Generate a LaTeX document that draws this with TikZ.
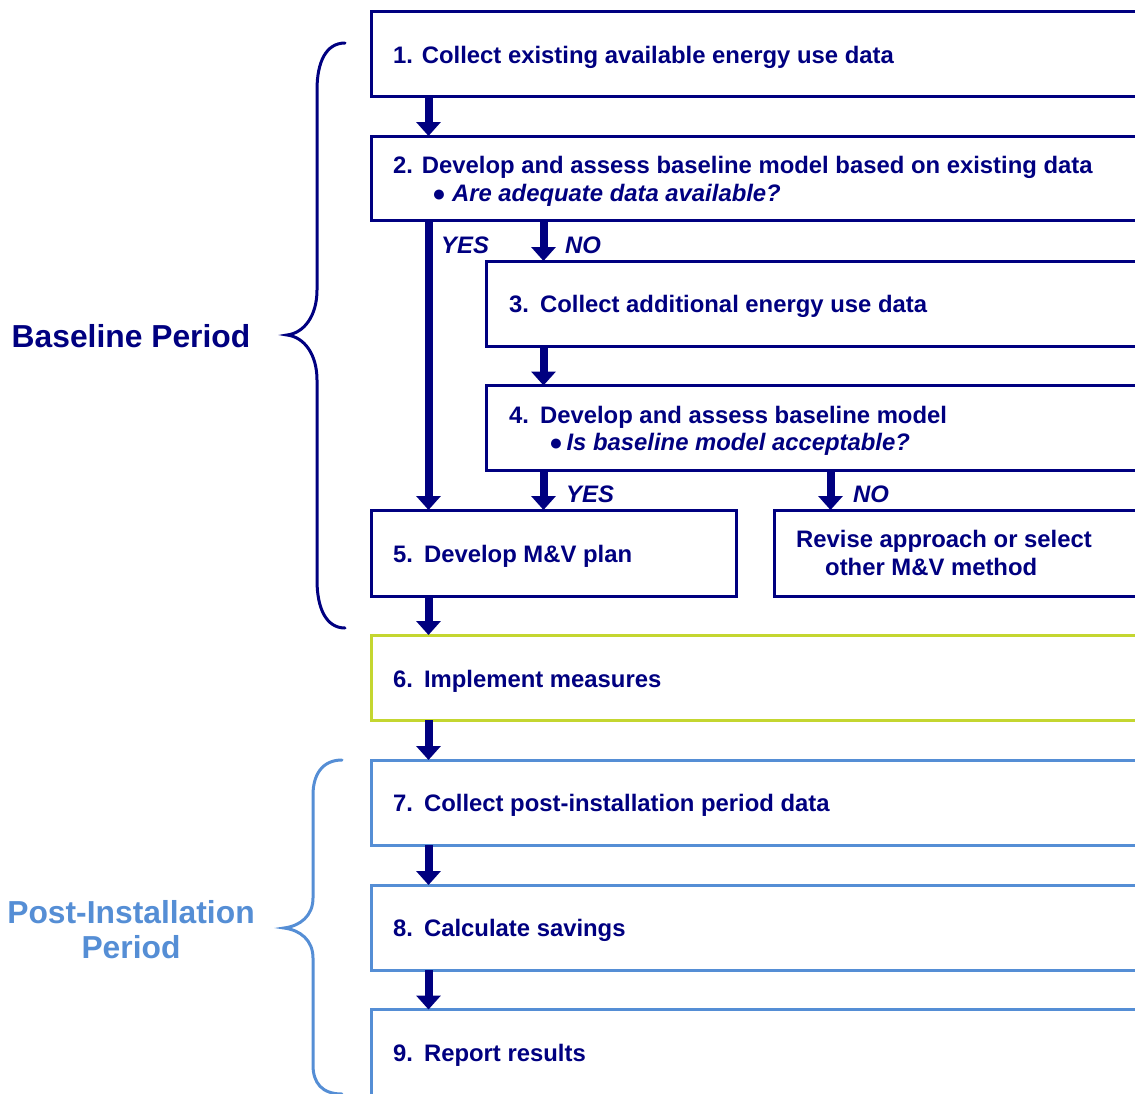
\documentclass[tikz,border=0pt]{standalone}
\usepackage{fontspec}
\setmainfont{Liberation Sans}
\usetikzlibrary{arrows.meta}
\definecolor{navy}{RGB}{0,0,128}
\definecolor{lblue}{RGB}{85,142,213}
\definecolor{lgreen}{RGB}{196,214,48}
\begin{document}
\begin{tikzpicture}[x=1pt,y=-1pt,
  box/.style={draw=navy, line width=3pt, rectangle, inner sep=0pt, outer sep=0pt, anchor=north west},
  txt/.style={inner sep=0pt, anchor=base west, text=navy, font=\fontsize{23.85}{28}\selectfont\bfseries},
  itxt/.style={txt, font=\fontsize{23.85}{28}\selectfont\bfseries\itshape},
  arr/.style={draw=navy, line width=8pt, -{Triangle[width=24pt,length=14pt]}},
  brace/.style={line width=3pt, line cap=round},
  period/.style={inner sep=0pt, anchor=base, font=\fontsize{31.8}{36}\selectfont\bfseries}]
\useasboundingbox (0,0) rectangle (1135,1093);
\clip (0,0) rectangle (1135,1093);

% boxes
\node[box, minimum width=800pt, minimum height=85pt] (b1) at (371,11.5) {};
\node[box, minimum width=800pt, minimum height=84pt] (b2) at (371,136) {};
\node[box, minimum width=700pt, minimum height=85pt] (b3) at (486,261) {};
\node[box, minimum width=700pt, minimum height=85pt] (b4) at (486,385.5) {};
\node[box, minimum width=365pt, minimum height=86pt] (b5) at (371,510) {};
\node[box, minimum width=400pt, minimum height=86pt] (rev) at (774,510) {};
\node[box, draw=lgreen, minimum width=800pt, minimum height=85pt] (b6) at (371,635) {};
\node[box, draw=lblue, minimum width=800pt, minimum height=85pt] (b7) at (371,760) {};
\node[box, draw=lblue, minimum width=800pt, minimum height=85pt] (b8) at (371,885) {};
\node[box, draw=lblue, minimum width=800pt, minimum height=140pt] (b9) at (371,1009.5) {};

% texts
\node[txt] (t1) at (393,63.3) {1. Collect existing available energy use data};
\node[txt] (t2) at (393,173) {2. Develop and assess baseline model based on existing data};
\node[itxt] (t2b) at (432,201.5) {{\fontsize{23}{28}\selectfont\upshape ●}\hspace{6pt}Are adequate data available?};
\node[txt] (t3) at (509,312.5) {3.\hspace{11pt}Collect additional energy use data};
\node[txt] (t4) at (509,423) {4.\hspace{11pt}Develop and assess baseline model};
\node[itxt] (t4b) at (549,450.5) {{\fontsize{23}{28}\selectfont\upshape ●}\hspace{3.5pt}Is baseline model acceptable?};
\node[txt] (t5) at (393,562.5) {5.\hspace{11pt}Develop M\&V plan};
\node[txt] (tr1) at (796,547.5) {Revise approach or select};
\node[txt] (tr2) at (825,575.5) {other M\&V method};
\node[txt] (t6) at (393,687.5) {6.\hspace{11pt}Implement measures};
\node[txt] (t7) at (393,811.5) {7.\hspace{11pt}Collect post-installation period data};
\node[txt] (t8) at (393,936.5) {8.\hspace{11pt}Calculate savings};
\node[txt] (t9) at (393,1061.5) {9.\hspace{11pt}Report results};

% yes / no labels
\node[itxt] (yes1) at (441,253) {YES};
\node[itxt] (no1) at (565,253) {NO};
\node[itxt] (yes2) at (566,502) {YES};
\node[itxt] (no2) at (853,502) {NO};

% arrows
\draw[arr] ([xshift=57.5pt]b1.south west) -- ([xshift=57.5pt]b2.north west);
\draw[arr] ([xshift=57.5pt]b2.south west) -- ([xshift=57.5pt]b5.north west);
\draw[arr] ([xshift=172.5pt]b2.south west) -- ([xshift=57.5pt]b3.north west);
\draw[arr] ([xshift=57.5pt]b3.south west) -- ([xshift=57.5pt]b4.north west);
\draw[arr] ([xshift=57.5pt]b4.south west) -- ([xshift=172.5pt]b5.north west);
\draw[arr] ([xshift=344.5pt]b4.south west) -- ([xshift=56.5pt]rev.north west);
\draw[arr] ([xshift=57.5pt]b5.south west) -- ([xshift=57.5pt]b6.north west);
\draw[arr] ([xshift=57.5pt]b6.south west) -- ([xshift=57.5pt]b7.north west);
\draw[arr] ([xshift=57.5pt]b7.south west) -- ([xshift=57.5pt]b8.north west);
\draw[arr] ([xshift=57.5pt]b8.south west) -- ([xshift=57.5pt]b9.north west);

% braces
\draw[brace, navy] (345,43) .. controls (326,43) and (317,62) .. (317,90) -- (317,290)
  .. controls (317,316) and (304,333) .. (287,335)
  .. controls (304,337) and (317,354) .. (317,380) -- (317,580)
  .. controls (317,608) and (326,628) .. (345,628);
\draw[brace, lblue] (342,760) .. controls (322,760) and (313,775) .. (313,795) -- (313,898)
  .. controls (313,916) and (300,926) .. (284,928)
  .. controls (300,930) and (313,940) .. (313,958) -- (313,1065)
  .. controls (313,1083) and (322,1094) .. (342,1094);

% period labels
\node[period, text=navy] (bp) at (131,347) {Baseline Period};
\node[period, text=lblue] (pi1) at (131,923) {Post-Installation};
\node[period, text=lblue] (pi2) at (131,958.5) {Period};
\end{tikzpicture}
\end{document}
